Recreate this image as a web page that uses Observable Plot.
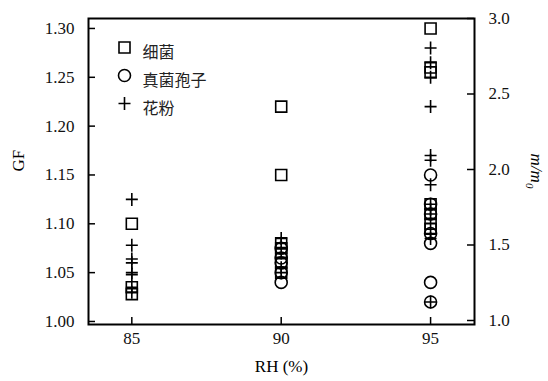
<!DOCTYPE html>
<html><head><meta charset="utf-8">
<script src="https://cdn.jsdelivr.net/npm/d3@7"></script>
<script src="https://cdn.jsdelivr.net/npm/@observablehq/plot@0.6"></script>
<style>body{margin:0;background:#fff}</style>
</head><body><div id="chart"></div>
<script>
// RH levels (x categories)
const rhLevels = [85, 90, 95];
// GF values per RH level, per particle type
const bacteriaGF = [[1.10, 1.035, 1.028], [1.22, 1.15, 1.08, 1.075, 1.07, 1.06, 1.05], [1.30, 1.26, 1.255, 1.12, 1.11, 1.10, 1.095]];
const fungiGF = [[], [1.075, 1.065, 1.06, 1.05, 1.04], [1.15, 1.12, 1.11, 1.09, 1.08, 1.04, 1.02]];
const pollenGF = [[1.125, 1.078, 1.064, 1.06, 1.05, 1.048, 1.035, 1.03], [1.085, 1.08, 1.07, 1.055, 1.05], [1.28, 1.265, 1.25, 1.22, 1.17, 1.165, 1.14, 1.12, 1.115, 1.11, 1.10, 1.09, 1.085, 1.02]];
// Tick labels
const gfTicks = [1.00, 1.05, 1.10, 1.15, 1.20, 1.25, 1.30];
const mTicks = [1.0, 1.5, 2.0, 2.5, 3.0];
const seriesNames = ["细菌", "真菌孢子", "花粉"];

const flat = (arr) => arr.flatMap((vals, i) => vals.map(v => ({rh: rhLevels[i], gf: v})));
const bacteria = flat(bacteriaGF), fungi = flat(fungiGF), pollen = flat(pollenGF);

// right axis (m/m0) mapped onto the GF scale
const gfDomain = [0.9969, 1.3102];
const mToGF = m => 1.001 + (m - 1) * (1.3102 - 1.001) / 2;
const gfToM = g => 1 + (g - 1.001) * 2 / (1.3102 - 1.001);

const W = 548, H = 381, mL = 88, mR = 74, mT = 18, mB = 57;
const pw = W - mL - mR, ph = H - mT - mB;

const sqSym = {draw(c){const s=5.5;c.moveTo(-s,-s);c.lineTo(s,-s);c.lineTo(s,s);c.lineTo(-s,s);c.closePath();}};
const circSym = {draw(c){c.moveTo(6,0);c.arc(0,0,6,0,2*Math.PI);}};
const plusSym = {draw(c){c.moveTo(-6,0);c.lineTo(6,0);c.moveTo(0,-6.5);c.lineTo(0,6.5);}};
const syms = [sqSym, circSym, plusSym];
const dotStyle = {fill: "none", stroke: "black", strokeWidth: 1.6};
const cjk = "'Noto Sans CJK SC', sans-serif";
const serif = "'Liberation Serif', 'Times New Roman', serif";
const axText = {fontFamily: serif, fontSize: 17, fill: "#111"};

const chart = Plot.plot({
  width: W, height: H,
  marginLeft: mL, marginRight: mR, marginTop: mT, marginBottom: mB,
  style: {fontFamily: serif, fontSize: "17px", background: "#fff"},
  x: {domain: [83.55, 96.47]},
  y: {domain: gfDomain},
  marks: [
    Plot.axisX({ticks: rhLevels, tickSize: 0, tickPadding: 7, label: null, tickFormat: d => d, ...axText}),
    Plot.axisY({anchor: "left", ticks: gfTicks, tickSize: 0, tickPadding: 14, label: null, tickFormat: d => d.toFixed(2), ...axText}),
    Plot.axisY({anchor: "right", ticks: mTicks.map(mToGF), tickSize: 0, tickPadding: 14, label: null, tickFormat: d => gfToM(d).toFixed(1), ...axText}),
    Plot.tickX(rhLevels, {x: d => d, insetTop: ph - 7, stroke: "black", strokeWidth: 1.5}),
    Plot.tickY(gfTicks, {y: d => d, insetRight: pw - 7, stroke: "black", strokeWidth: 1.5}),
    Plot.tickY(mTicks.map(mToGF), {y: d => d, insetLeft: pw - 7, stroke: "black", strokeWidth: 1.5}),
    Plot.dot(bacteria, {x: "rh", y: "gf", symbol: sqSym, ...dotStyle}),
    Plot.dot(fungi, {x: "rh", y: "gf", symbol: circSym, ...dotStyle}),
    Plot.dot(pollen, {x: "rh", y: "gf", symbol: plusSym, ...dotStyle}),
    // legend
    ...seriesNames.map((name, i) => Plot.dot([name], {frameAnchor: "top-left", dx: 36, dy: 29 + 28 * i, symbol: syms[i], ...dotStyle})),
    ...seriesNames.map((name, i) => Plot.text([name], {text: d => d, frameAnchor: "top-left", dx: 54, dy: 28 + 28 * i, textAnchor: "start", fontFamily: cjk, fontSize: 16, fill: "#222"})),
    // axis titles
    Plot.text(["RH (%)"], {text: d => d, frameAnchor: "bottom", dy: 47, fontFamily: serif, fontSize: 17}),
    Plot.text(["GF"], {text: d => d, frameAnchor: "left", dx: -70, rotate: -90, fontFamily: serif, fontSize: 17}),
    Plot.frame({stroke: "black", strokeWidth: 2})
  ]
});
const svg = d3.select(chart);
// force serif font on axis tick labels
svg.selectAll("g[aria-label$='tick label']")
  .style("font-family", serif).style("font-size", "17px").style("font-variant", "normal");
// right-axis title with italic and subscript
const t = svg.append("text")
  .attr("transform", `translate(${W - 13},${mT + ph / 2}) rotate(90)`)
  .attr("text-anchor", "middle").attr("dominant-baseline", "middle")
  .style("font-family", serif).style("font-size", "17px").style("font-style", "italic");
t.append("tspan").text("m/m");
t.append("tspan").attr("baseline-shift", "sub").style("font-size", "11px").text("0");
document.getElementById("chart").appendChild(chart);
</script>
</body></html>
